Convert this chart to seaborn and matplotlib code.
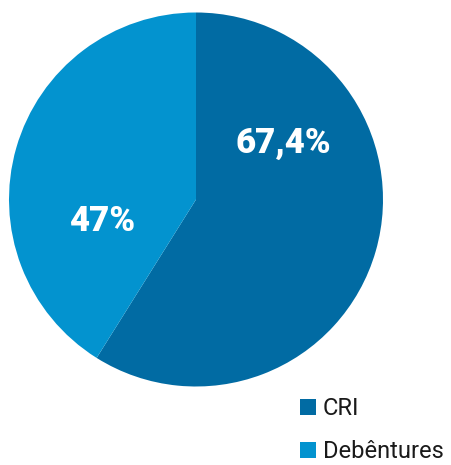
import matplotlib
matplotlib.use("Agg")
import matplotlib.pyplot as plt
import seaborn as sns

sns.set_theme(style="white")
plt.rcParams["font.family"] = ["Roboto", "DejaVu Sans"]

# Portfolio split
categories = ["CRI", "Debêntures"]
values = [67.4, 47.0]
label_texts = ["67,4%", "47%"]
colors = ["#016ba3", "#0393cf"]

W, H = 451, 465
fig = plt.figure(figsize=(W / 100, H / 100), dpi=100)

# Pie occupies a square region: centre (196, 199), radius 187 px
cx, cy, r = 196, 199.5, 187
ax = fig.add_axes([(cx - r) / W, (H - cy - r) / H, 2 * r / W, 2 * r / H])

wedges, _ = ax.pie(values, colors=colors, startangle=90, counterclock=False,
                   radius=1.0, wedgeprops=dict(linewidth=0))
ax.set_xlim(-1, 1)
ax.set_ylim(-1, 1)
ax.set_aspect("equal")
ax.axis("off")

# value labels inside slices
label_pos = [(0.465, 0.30), (-0.50, -0.12)]
for (x, y), txt in zip(label_pos, label_texts):
    ax.text(x, y, txt, ha="center", va="center", color="white",
            fontsize=25, fontweight="black")

leg = fig.legend(wedges, categories, loc="upper left",
                 bbox_to_anchor=(300 / W, 1 - 397 / H),
                 frameon=False, fontsize=17, handlelength=0.66,
                 handleheight=0.66, handletextpad=0.3, labelspacing=0.85,
                 borderpad=0, borderaxespad=0)
for t in leg.get_texts():
    t.set_color("#1a1a1a")

fig.savefig("out.png", dpi=100, facecolor="white")
